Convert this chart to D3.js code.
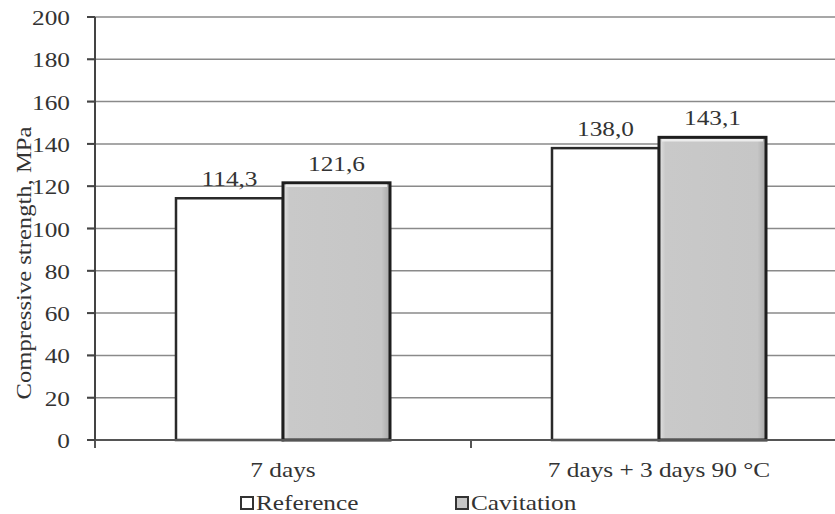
<!DOCTYPE html>
<html>
<head>
<meta charset="utf-8">
<script src="https://cdn.jsdelivr.net/npm/d3@7/dist/d3.min.js"></script>
<style>
  html, body { margin: 0; padding: 0; background: #fff; }
  svg { display: block; }
</style>
</head>
<body>
<svg id="chart" width="835" height="514"></svg>
<script>
const categories = ["7 days", "7 days + 3 days 90 °C"];
const seriesNames = ["Reference", "Cavitation"];
const referenceValues = [114.3, 138.0];
const cavitationValues = [121.6, 143.1];
const valueLabels = [["114,3", "121,6"], ["138,0", "143,1"]];
const yTicks = [0, 20, 40, 60, 80, 100, 120, 140, 160, 180, 200];
const yTitle = "Compressive strength, MPa";

(function () {
const FONT = "'Liberation Serif', 'Times New Roman', Tinos, Times, serif";
const svg = d3.select("#chart").attr("font-family", FONT);
const W = 835, H = 514;
const mLeft = 95, mRight = 847, mTop = 17, mBottom = 440;
const FS = 22, SX = 1.15;
const TXT = "#333";

const y = d3.scaleLinear().domain([0, 200]).range([mBottom, mTop]);
const x0 = d3.scaleBand().domain(categories).range([mLeft, mRight]);
const x1 = d3.scaleBand().domain(seriesNames).range([0, x0.bandwidth()]).paddingInner(0).paddingOuter(0.757);

const defs = svg.append("defs");
const g1 = defs.append("linearGradient").attr("id", "cavH").attr("x1", "0").attr("x2", "1").attr("y1", "0").attr("y2", "0");
g1.append("stop").attr("offset", "0").attr("stop-color", "#e2e2e2");
g1.append("stop").attr("offset", "0.06").attr("stop-color", "#c9c9c9");
g1.append("stop").attr("offset", "0.92").attr("stop-color", "#c6c6c6");
g1.append("stop").attr("offset", "1").attr("stop-color", "#a8a8a8");

// gridlines
svg.append("g").selectAll("line").data(yTicks.filter(d => d > 0)).join("line")
  .attr("x1", mLeft - 8).attr("x2", W)
  .attr("y1", d => y(d)).attr("y2", d => y(d))
  .attr("stroke", "#8a8a8a").attr("stroke-width", 1.5);

// bars
const data = categories.map((c, i) => ({ cat: c, vals: [referenceValues[i], cavitationValues[i]] }));
const groups = svg.append("g").selectAll("g").data(data).join("g")
  .attr("transform", d => `translate(${x0(d.cat)},0)`);

groups.each(function(d, ci) {
  const g = d3.select(this);
  seriesNames.forEach((s, si) => {
    const v = d.vals[si];
    const bx = x1(s), bw = x1.bandwidth();
    const by = y(v), bh = y(0) - y(v);
    if (si === 0) {
      g.append("rect").attr("x", bx).attr("y", by).attr("width", bw).attr("height", bh)
        .attr("fill", "#fff").attr("stroke", "#2a2a2a").attr("stroke-width", 2.5);
    } else {
      g.append("rect").attr("x", bx).attr("y", by).attr("width", bw).attr("height", bh)
        .attr("fill", "url(#cavH)").attr("stroke", "#1e1e1e").attr("stroke-width", 3);
      g.append("line").attr("x1", bx + 3).attr("x2", bx + bw - 3)
        .attr("y1", by + 3).attr("y2", by + 3)
        .attr("stroke", "#ececec").attr("stroke-width", 2.5);
    }
    g.append("text")
      .attr("transform", `translate(${bx + bw / 2},${by - 12}) scale(${SX},1)`)
      .attr("text-anchor", "middle").attr("font-size", FS).attr("fill", TXT)
      .text(valueLabels[ci][si]);
  });
});

// x axis line
svg.append("line").attr("x1", mLeft - 8).attr("x2", W).attr("y1", y(0)).attr("y2", y(0))
  .attr("stroke", "#555").attr("stroke-width", 2);
// category boundary ticks
const bounds = [mLeft, mLeft + x0.step(), mRight];
svg.append("g").selectAll("line").data(bounds).join("line")
  .attr("x1", d => d).attr("x2", d => d).attr("y1", y(0)).attr("y2", y(0) + 8)
  .attr("stroke", "#555").attr("stroke-width", 2);

// y axis
svg.append("line").attr("x1", mLeft).attr("x2", mLeft).attr("y1", mTop).attr("y2", y(0))
  .attr("stroke", "#444").attr("stroke-width", 2);
svg.append("g").selectAll("line").data(yTicks).join("line")
  .attr("x1", mLeft - 8).attr("x2", mLeft).attr("y1", d => y(d)).attr("y2", d => y(d))
  .attr("stroke", "#444").attr("stroke-width", 2);
svg.append("g").selectAll("text").data(yTicks).join("text")
  .attr("transform", d => `translate(70,${y(d) + 8}) scale(${SX},1)`)
  .attr("text-anchor", "end").attr("font-size", FS).attr("fill", TXT)
  .text(d => d);

// category labels
svg.append("g").selectAll("text").data(categories).join("text")
  .attr("transform", d => `translate(${x0(d) + x0.bandwidth() / 2},477) scale(${SX},1)`)
  .attr("text-anchor", "middle").attr("font-size", FS).attr("fill", TXT)
  .text(d => d);

// y title
svg.append("text")
  .attr("transform", "translate(31,263) rotate(-90) scale(1.12,1)")
  .attr("text-anchor", "middle").attr("font-size", 22).attr("fill", TXT)
  .text(yTitle);

// legend
const legendX = [240, 455];
const leg = svg.append("g").selectAll("g").data(seriesNames).join("g")
  .attr("transform", (d, i) => `translate(${legendX[i]},0)`);
leg.append("rect").attr("x", 1).attr("y", 497).attr("width", 12).attr("height", 12)
  .attr("fill", (d, i) => i === 0 ? "#fff" : "#c6c6c6")
  .attr("stroke", "#333").attr("stroke-width", 2);
leg.append("text")
  .attr("transform", `translate(16,510) scale(${SX},1)`)
  .attr("font-size", FS).attr("fill", TXT)
  .text(d => d);
})();
</script>
</body>
</html>
